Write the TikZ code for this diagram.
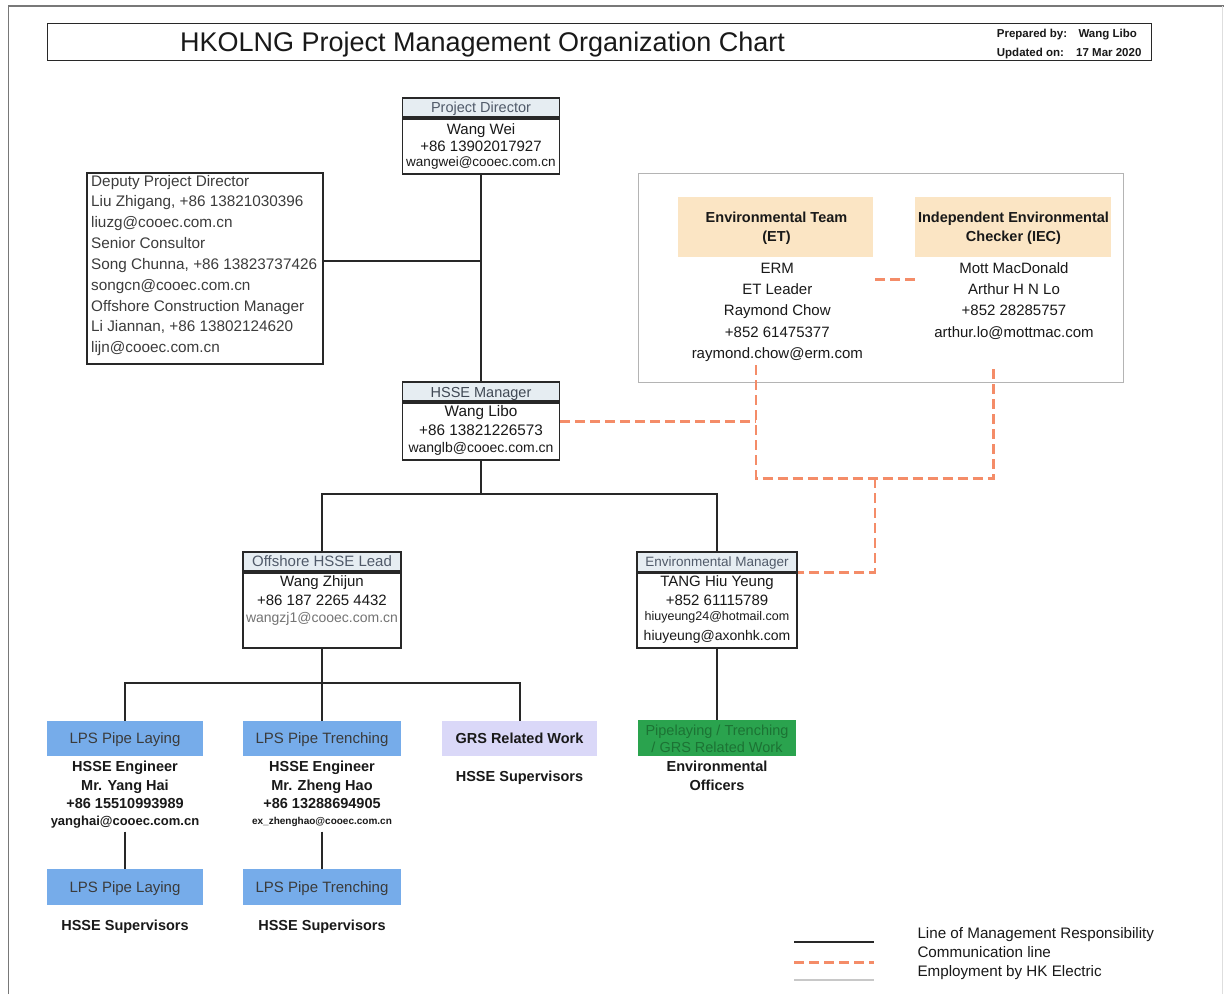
\documentclass[tikz,border=0pt]{standalone}
\usepackage{fontspec}
\setmainfont{Liberation Sans}
\newcommand{\myfs}[1]{\fontsize{#1}{#1}\selectfont}
\definecolor{linedark}{RGB}{40,40,40}
\definecolor{hdrfill}{RGB}{230,237,242}
\definecolor{hdrtext}{RGB}{80,90,105}
\definecolor{textdark}{RGB}{25,25,25}
\definecolor{deptext}{RGB}{60,60,60}
\definecolor{lpsblue}{RGB}{118,172,234}
\definecolor{grslav}{RGB}{218,216,248}
\definecolor{envgreen}{RGB}{42,163,78}
\definecolor{envgreentext}{RGB}{28,115,52}
\definecolor{peach}{RGB}{251,229,196}
\definecolor{commorange}{RGB}{244,140,104}
\definecolor{groupgray}{RGB}{180,180,180}
\definecolor{emailgray}{RGB}{115,115,115}
\definecolor{pagegray}{RGB}{120,120,120}
\definecolor{legendgray}{RGB}{200,200,200}
\begin{document}
\begin{tikzpicture}[x=1pt,y=-1pt,
  txt/.style={anchor=base, inner sep=0pt, text=textdark},
  boxline/.style={rectangle, draw=linedark, line width=1.8pt, inner sep=0pt},
  hdrcell/.style={boxline, fill=hdrfill},
  colorcell/.style={rectangle, inner sep=0pt},
  mgmt/.style={draw=linedark, line width=2pt},
  comm/.style={draw=commorange, line width=2.6pt, dash pattern=on 10pt off 5pt},
  hdrtxt/.style={txt, text=hdrtext},
  bodytxt/.style={txt, font=\myfs{15}},
  boldtxt/.style={txt, font=\bfseries\myfs{14.5}},
  deptxt/.style={txt, anchor=base west, text=deptext, font=\myfs{15.3}},
  legtxt/.style={txt, anchor=base west, font=\myfs{15.2}},
  preptxt/.style={txt, anchor=base west, font=\bfseries\myfs{11.5}},
]
\useasboundingbox (0,0) rectangle (1224,994);
\fill[white] (0,0) rectangle (1224,994);

% page border
\coordinate (pgbl) at (8.3,994);
\coordinate (pgtl) at (8.3,6);
\coordinate (pgtr) at (1224,6);
\draw[pagegray, line width=1.3pt] (pgbl) -- (pgtl) -- (pgtr);
\coordinate (pgrt) at (1222,6);
\coordinate (pgrb) at (1222,994);
\draw[legendgray!60, line width=0.8pt] (pgrt) -- (pgrb);

% title
\node[boxline, line width=1.5pt, minimum width=1104pt, minimum height=37pt] (titlebox) at (599.7,42) {};
\node[txt, font=\myfs{27}] (title) at (482.5,51.5) {HKOLNG Project Management Organization Chart};
\node[preptxt] (prep) at (996.7,37.3) {Prepared by:};
\node[preptxt] (prepn) at (1078.3,37.3) {Wang Libo};
\node[preptxt] (upd) at (996.7,56.5) {Updated on:};
\node[preptxt] (updd) at (1076,56.5) {17 Mar 2020};

% Project Director
\node[hdrcell, minimum width=157pt, minimum height=19pt] (pdh) at (481,107.5) {};
\node[boxline, minimum width=157pt, minimum height=55pt, anchor=north] (pdb) at (pdh.south) {};
\node[hdrtxt, font=\myfs{14.5}] (pdt) at (481,112.5) {Project Director};
\node[bodytxt] (pd1) at (481,134.5) {Wang Wei};
\node[bodytxt] (pd2) at (481,151.5) {+86 13902017927};
\node[txt, font=\myfs{13.5}] (pd3) at (481,166.5) {wangwei@cooec.com.cn};

% Deputy box
\node[boxline, minimum width=236pt, minimum height=190.7pt] (dep) at (204.7,268.7) {};
\node[deptxt] (dp1) at (91,186) {Deputy Project Director};
\node[deptxt] (dp2) at (91,206.85) {Liu Zhigang, +86 13821030396};
\node[deptxt] (dp3) at (91,227.7) {liuzg@cooec.com.cn};
\node[deptxt] (dp4) at (91,248.55) {Senior Consultor};
\node[deptxt] (dp5) at (91,269.4) {Song Chunna, +86 13823737426};
\node[deptxt] (dp6) at (91,290.25) {songcn@cooec.com.cn};
\node[deptxt] (dp7) at (91,311.1) {Offshore Construction Manager};
\node[deptxt] (dp8) at (91,331.95) {Li Jiannan, +86 13802124620};
\node[deptxt] (dp9) at (91,352.8) {lijn@cooec.com.cn};

% HSSE Manager
\node[hdrcell, minimum width=157pt, minimum height=18.7pt] (hsh) at (481,391.65) {};
\node[boxline, minimum width=157pt, minimum height=57pt, anchor=north] (hsb) at (hsh.south) {};
\node[hdrtxt, text=hdrtext!80!black, font=\myfs{14.5}] (hst) at (481,397) {HSSE Manager};
\node[bodytxt, font=\myfs{15.3}] (hs1) at (481,416.7) {Wang Libo};
\node[bodytxt, font=\myfs{15.3}] (hs2) at (481,435) {+86 13821226573};
\node[txt, font=\myfs{14}] (hs3) at (481,452) {wanglb@cooec.com.cn};

% Offshore HSSE Lead
\node[hdrcell, minimum width=158pt, minimum height=19.3pt] (olh) at (322,561.35) {};
\node[boxline, minimum width=158pt, minimum height=75pt, anchor=north] (olb) at (olh.south) {};
\node[hdrtxt, font=\myfs{15}] (olt) at (322,566.5) {Offshore HSSE Lead};
\node[bodytxt] (ol1) at (322,586.5) {Wang Zhijun};
\node[bodytxt] (ol2) at (322,605) {+86 187 2265 4432};
\node[txt, text=emailgray, font=\myfs{14}] (ol3) at (322,622.5) {wangzj1@cooec.com.cn};

% Environmental Manager
\node[hdrcell, minimum width=159.4pt, minimum height=19.7pt] (emh) at (717,561.85) {};
\node[boxline, minimum width=159.4pt, minimum height=74.3pt, anchor=north] (emb) at (emh.south) {};
\node[hdrtxt, font=\myfs{13.5}] (emt) at (717,566.5) {Environmental Manager};
\node[bodytxt] (em1) at (717,586.5) {TANG Hiu Yeung};
\node[bodytxt] (em2) at (717,605) {+852 61115789};
\node[txt, font=\myfs{12.5}] (em3) at (717,620.5) {hiuyeung24@hotmail.com};
\node[txt, font=\myfs{14}] (em4) at (717,640) {hiuyeung@axonhk.com};

% Environmental group
\node[rectangle, draw=groupgray, line width=1pt, minimum width=485pt, minimum height=209pt] (envgrp) at (880.5,277.5) {};
\node[colorcell, fill=peach, minimum width=195pt, minimum height=60pt] (eth) at (775.8,226.7) {};
\node[colorcell, fill=peach, minimum width=196pt, minimum height=60pt] (iech) at (1013,226.7) {};
\node[boldtxt] (et1) at (776.5,222.3) {Environmental Team};
\node[boldtxt] (et2) at (776.5,241.5) {(ET)};
\node[boldtxt] (iec1) at (1013.5,222.3) {Independent Environmental};
\node[boldtxt] (iec2) at (1013.5,241.5) {Checker (IEC)};
\node[bodytxt] (etb1) at (777.3,273.3) {ERM};
\node[bodytxt] (etb2) at (777.3,294.7) {ET Leader};
\node[bodytxt] (etb3) at (777.3,315.7) {Raymond Chow};
\node[bodytxt] (etb4) at (777.3,337.3) {+852 61475377};
\node[bodytxt] (etb5) at (777.3,358) {raymond.chow@erm.com};
\node[bodytxt] (iecb1) at (1014,273.3) {Mott MacDonald};
\node[bodytxt] (iecb2) at (1014,294.7) {Arthur H N Lo};
\node[bodytxt] (iecb3) at (1014,315.7) {+852 28285757};
\node[bodytxt] (iecb4) at (1014,337.3) {arthur.lo@mottmac.com};

% Bottom: LPS Pipe Laying
\node[colorcell, fill=lpsblue, minimum width=156.6pt, minimum height=35.3pt] (lps1) at (125,738.35) {};
\node[bodytxt, text=textdark!85] (lps1t) at (125,743.3) {LPS Pipe Laying};
\node[boldtxt] (ly1) at (125,771.7) {HSSE Engineer};
\node[boldtxt] (ly2) at (125,790) {Mr. Yang Hai};
\node[boldtxt] (ly3) at (125,808.3) {+86 15510993989};
\node[txt, font=\bfseries\myfs{13}] (ly4) at (125,825.5) {yanghai@cooec.com.cn};
\coordinate (lytail) at (125,831.7);
\node[colorcell, fill=lpsblue, minimum width=156.6pt, minimum height=35.7pt] (lps2) at (125,887.15) {};
\node[bodytxt, text=textdark!85] (lps2t) at (125,892.7) {LPS Pipe Laying};
\node[boldtxt] (ly5) at (125,930) {HSSE Supervisors};

% Bottom: LPS Pipe Trenching
\node[colorcell, fill=lpsblue, minimum width=157.4pt, minimum height=35.3pt] (lpt1) at (322,738.35) {};
\node[bodytxt, text=textdark!85] (lpt1t) at (322,743.3) {LPS Pipe Trenching};
\node[boldtxt] (tr1) at (322,771.7) {HSSE Engineer};
\node[boldtxt] (tr2) at (322,790) {Mr. Zheng Hao};
\node[boldtxt] (tr3) at (322,808.3) {+86 13288694905};
\node[txt, font=\bfseries\myfs{10}] (tr4) at (322,824.5) {ex\_zhenghao@cooec.com.cn};
\coordinate (trtail) at (322,831.7);
\node[colorcell, fill=lpsblue, minimum width=157.4pt, minimum height=35.7pt] (lpt2) at (322,887.15) {};
\node[bodytxt, text=textdark!85] (lpt2t) at (322,892.7) {LPS Pipe Trenching};
\node[boldtxt] (tr5) at (322,930) {HSSE Supervisors};

% Bottom: GRS
\node[colorcell, fill=grslav, minimum width=155pt, minimum height=35.3pt] (grs) at (519.5,738.35) {};
\node[boldtxt] (grst) at (519.5,743.3) {GRS Related Work};
\node[boldtxt] (grs1) at (519.5,781.7) {HSSE Supervisors};

% Bottom: green
\node[colorcell, fill=envgreen, minimum width=158.4pt, minimum height=36pt] (grn) at (717,738) {};
\node[txt, text=envgreentext, font=\myfs{14.5}] (grn1) at (717,735) {Pipelaying / Trenching};
\node[txt, text=envgreentext, font=\myfs{14.5}] (grn2) at (717,752) {/ GRS Related Work};
\node[boldtxt] (eo1) at (717,771.7) {Environmental};
\node[boldtxt] (eo2) at (717,790) {Officers};

% management lines
\coordinate (depj) at (481,261);
\draw[mgmt] (pdb.south) -- (hsh.north);
\draw[mgmt] (dep.east |- depj) -- (depj);
\coordinate (j1) at (481,494);
\draw[mgmt] (hsb.south) -- (j1);
\draw[mgmt] (olh.north) |- (j1) -| (emh.north);
\coordinate (j2) at (322,683);
\draw[mgmt] (olb.south) -- (j2);
\draw[mgmt] (lps1.north) |- (j2) -| (grs.north);
\draw[mgmt] (lpt1.north) -- (j2);
\draw[mgmt] (emb.south) -- (grn.north);
\draw[mgmt] (lytail) -- (lps2.north);
\draw[mgmt] (trtail) -- (lpt2.north);

% communication lines
\coordinate (etr) at (875,279.3);
\coordinate (iecl) at (915,279.3);
\draw[comm] (etr) -- (iecl);
\coordinate (etd) at (756,365);
\coordinate (iecd) at (993.3,365);
\coordinate (cj) at (875,478.3);
\draw[comm] (etd) |- (iecd |- cj) -- (iecd);
\coordinate (hsc) at (560,421.7);
\draw[comm] (hsc) -- (hsc -| etd);
\draw[comm] (cj) |- (emh.south east);

% legend
\coordinate (lga1) at (794,941.7);
\coordinate (lgb1) at (874,941.7);
\coordinate (lga2) at (794,962.3);
\coordinate (lgb2) at (874,962.3);
\coordinate (lga3) at (794,980);
\coordinate (lgb3) at (874,980);
\draw[mgmt] (lga1) -- (lgb1);
\draw[comm] (lga2) -- (lgb2);
\draw[legendgray, line width=1.2pt] (lga3) -- (lgb3);
\node[legtxt] (lg1) at (917.3,938.3) {Line of Management Responsibility};
\node[legtxt] (lg2) at (917.3,957) {Communication line};
\node[legtxt] (lg3) at (917.3,976.7) {Employment by HK Electric};
\end{tikzpicture}
\end{document}
